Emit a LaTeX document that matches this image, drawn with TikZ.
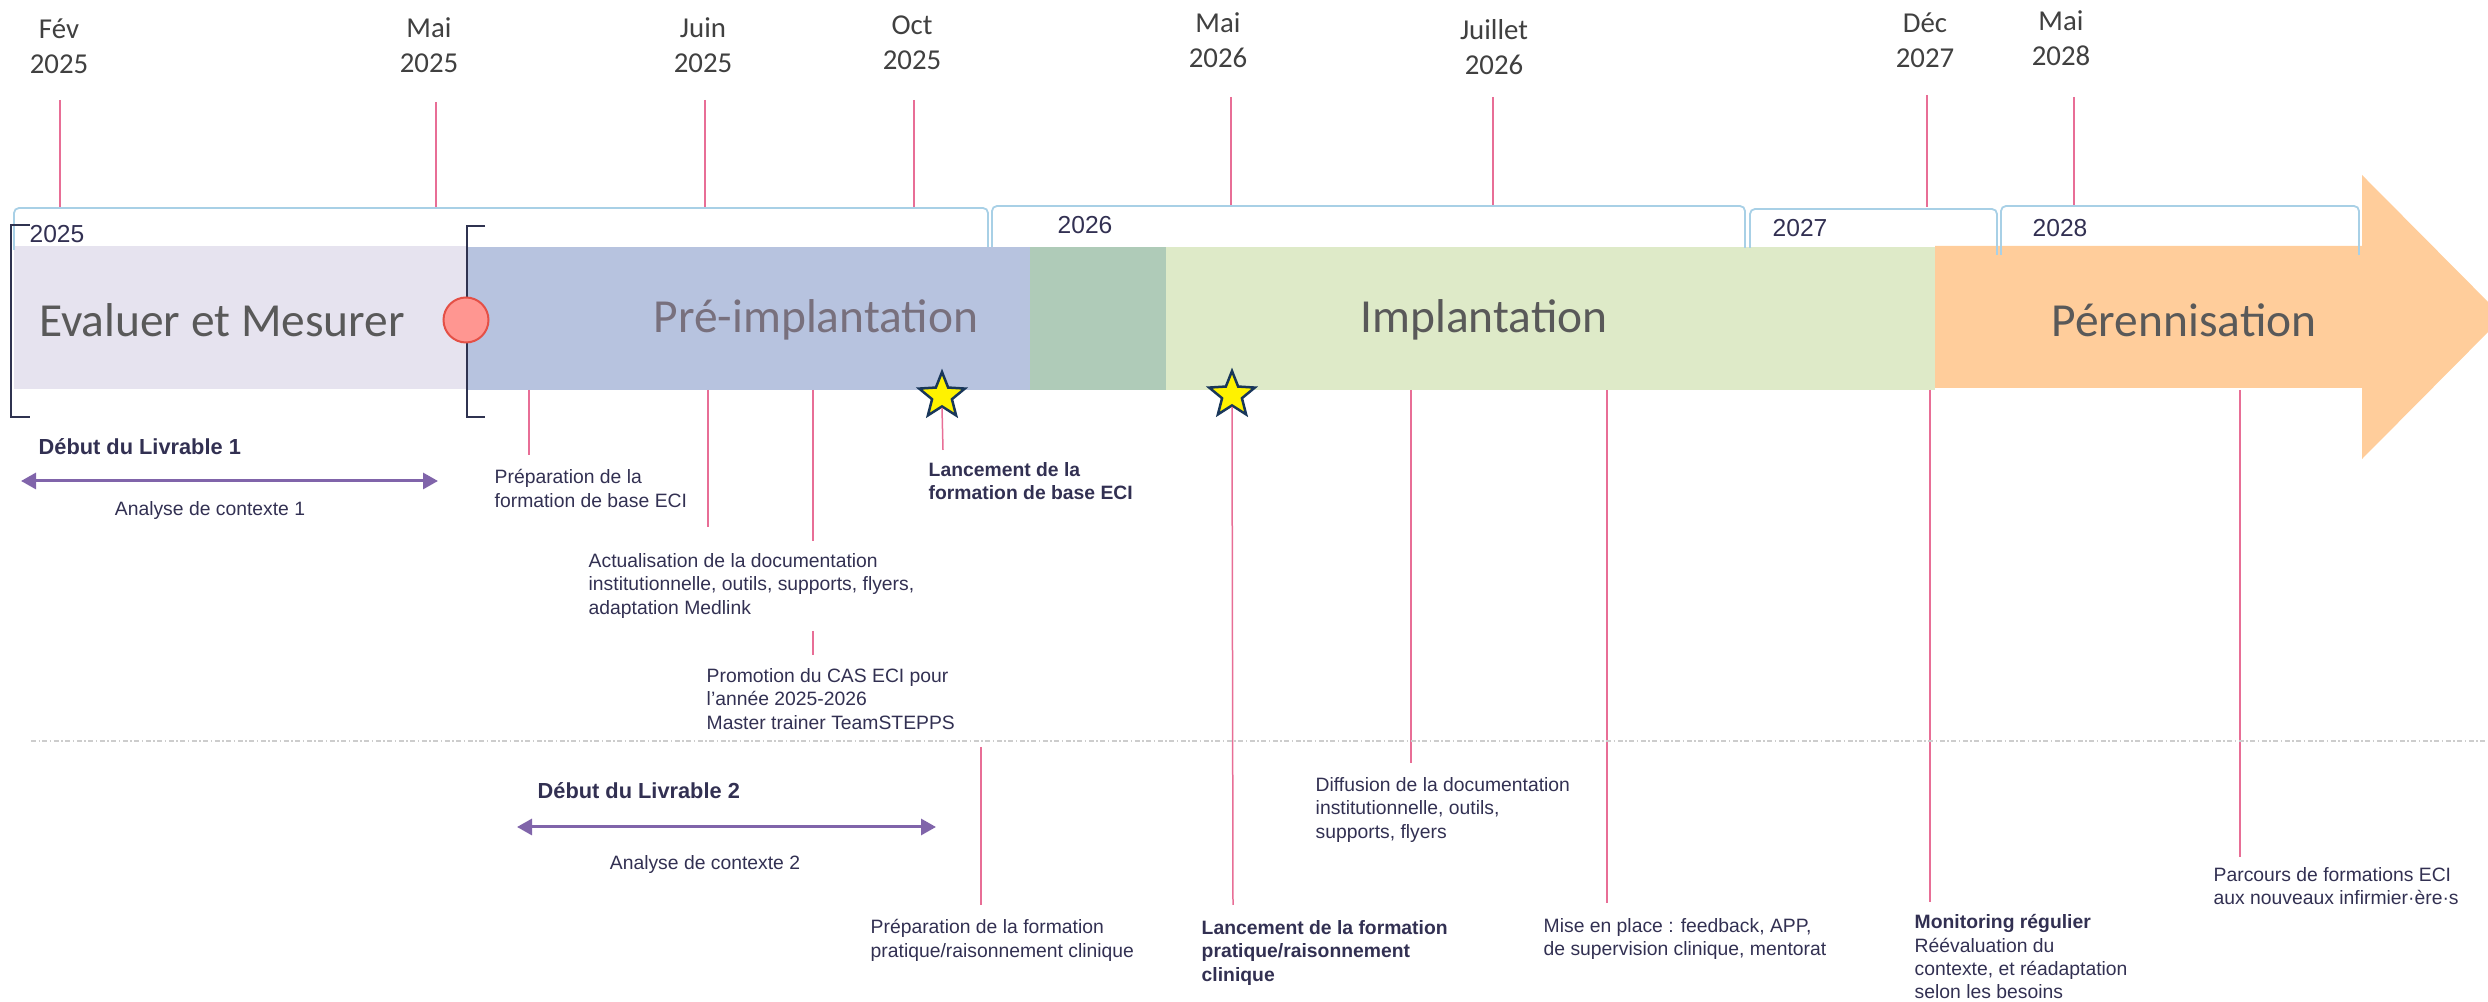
\documentclass[tikz,border=0pt]{standalone}
\usepackage{fontspec}
\setmainfont{Liberation Sans}
\newfontfamily\calibrifont{Carlito}
\usetikzlibrary{shapes.geometric,arrows.meta,positioning}

\definecolor{evalcol}{RGB}{230,227,239}
\definecolor{precol}{RGB}{183,195,223}
\definecolor{trancol}{RGB}{175,203,184}
\definecolor{implcol}{RGB}{222,234,200}
\definecolor{perencol}{RGB}{255,205,155}
\definecolor{pinkline}{RGB}{232,110,150}
\definecolor{yearblue}{RGB}{168,208,230}
\definecolor{navytxt}{RGB}{50,48,82}
\definecolor{phasetxt}{RGB}{89,89,89}
\definecolor{pretxt}{RGB}{120,112,125}
\definecolor{livpurple}{RGB}{128,100,170}
\definecolor{brkcol}{RGB}{47,51,80}
\definecolor{starline}{RGB}{25,55,90}
\definecolor{sepgray}{RGB}{205,205,205}

\tikzset{
  month/.style={font=\calibrifont\fontsize{8.2}{10}\selectfont, text=black!75, align=center, inner sep=0},
  mline/.style={draw=pinkline, line width=0.15mm},
  yrbrk/.style={draw=yearblue, line width=0.18mm, rounded corners=0.5mm},
  yrlab/.style={font=\fontsize{7}{8}\selectfont, text=navytxt, inner sep=0},
  phase/.style={font=\calibrifont\fontsize{13.5}{16}\selectfont, text=phasetxt, inner sep=0},
  blkbrk/.style={draw=brkcol, line width=0.2mm},
  milestar/.style={star, star points=5, star point ratio=2.3, minimum size=4.8mm, inner sep=0,
    fill=yellow, draw=starline, line width=0.25mm},
  note/.style={font=\fontsize{5.5}{6.6}\selectfont, text=navytxt, align=left, anchor=north west, inner sep=0},
  bnote/.style={note, font=\bfseries\fontsize{5.5}{6.6}\selectfont},
  livr/.style={font=\bfseries\fontsize{6.2}{7.5}\selectfont, text=navytxt, anchor=west, inner sep=0},
  span/.style={draw=livpurple, line width=0.3mm,
    {Triangle[length=1.5mm,width=1.6mm]}-{Triangle[length=1.5mm,width=1.6mm]}},
  sepline/.style={draw=sepgray, line width=0.2mm, dash pattern=on 0.5mm off 0.25mm on 0.15mm off 0.25mm},
}

\begin{document}
\begin{tikzpicture}[x=0.1mm,y=-0.1mm]
    \useasboundingbox (0,0) rectangle (2488,1002);
    % Months
    \coordinate (yrtop) at (0,207);
    \node[month] (fev25) at (59,46) {Fév\\2025} ; %
    \node[month] (mai25) at (429,45) {Mai\\2025} ; %
    \node[month] (juin25) at (703,45) {Juin\\2025} ; %
    \node[month] (oct25) at (912,43) {Oct\\2025} ; %
    \node[month] (mai26) at (1218,40) {Mai\\2026} ; %
    \node[month] (juil26) at (1494,47) {Juillet\\2026} ; %
    \node[month] (dec27) at (1925,40) {Déc\\2027} ; %
    \node[month] (mai28) at (2061,38) {Mai\\2028} ; %
    \coordinate (fevT) at (60,100);
    \coordinate (mai25T) at (436,102);
    \coordinate (juin25T) at (705,100);
    \coordinate (oct25T) at (914,100);
    \coordinate (mai26T) at (1231,97);
    \coordinate (juil26T) at (1493,97);
    \coordinate (dec27T) at (1927,95);
    \coordinate (mai28T) at (2074,97);
    \draw[mline] (fevT) -- (fevT |- yrtop) ; %
    \draw[mline] (mai25T) -- (mai25T |- yrtop) ; %
    \draw[mline] (juin25T) -- (juin25T |- yrtop) ; %
    \draw[mline] (oct25T) -- (oct25T |- yrtop) ; %
    \draw[mline] (mai26T) -- (mai26T |- yrtop) ; %
    \draw[mline] (juil26T) -- (juil26T |- yrtop) ; %
    \draw[mline] (dec27T) -- (dec27T |- yrtop) ; %
    \draw[mline] (mai28T) -- (mai28T |- yrtop) ; %

    % Phases
    \fill[evalcol] (14,246) rectangle (467,389);
    \fill[precol] (467,247) rectangle (1030,390);
    \fill[trancol] (1030,247) rectangle (1166,390);
    \fill[implcol] (1166,247) rectangle (1935,390);
    \fill[perencol] (1935,246) -- (2362,246) -- (2362,175) -- (2503,317)
        -- (2362,459) -- (2362,388) -- (1935,388) -- cycle;
    \node[phase] (eval) at (222,320) {Evaluer et Mesurer} ; %
    \node[phase, text=pretxt] (preimpl) at (816,320) {Pré-implantation} ; %
    \node[phase] (impl) at (1484,320) {Implantation} ; %
    \node[phase] (peren) at (2184,320) {Pérennisation} ; %

    % Years
    \draw[yrbrk] (14,250) -- (14,208) -- (988,208) -- (988,247);
    \draw[yrbrk] (992,247) -- (992,206) -- (1745,206) -- (1745,248);
    \draw[yrbrk] (1750,248) -- (1750,209) -- (1997,209) -- (1997,255);
    \draw[yrbrk] (2001,255) -- (2001,206) -- (2359,206) -- (2359,255);
    \node[yrlab] (y25) at (57,234) {2025} ; %
    \node[yrlab] (y26) at (1085,225) {2026} ; %
    \node[yrlab] (y27) at (1800,228) {2027} ; %
    \node[yrlab] (y28) at (2060,228) {2028} ; %

    % Livrable 1
    \draw[blkbrk] (30,225) -- (11,225) -- (11,417) -- (30,417);
    \draw[blkbrk] (485,226) -- (467,226) -- (467,417) -- (485,417);
    \node[circle, minimum size=4.5mm, inner sep=0, fill={rgb,255:red,255;green,150;blue,145},
        draw={rgb,255:red,228;green,80;blue,70}, line width=0.2mm] (jalon) at (466,320) {} ; %

    % Milestones
    \coordinate (bandS) at (0,390);
    \coordinate (prepB) at (529,455);
    \coordinate (actuB) at (708,527);
    \coordinate (promB) at (813,541);
    \coordinate (promC) at (813,631);
    \coordinate (promD) at (813,655);
    \coordinate (lancB) at (943,450);
    \coordinate (pratA) at (981,747);
    \coordinate (pratB) at (981,905);
    \coordinate (lanc2B) at (1233,905);
    \coordinate (diffB) at (1411,763);
    \coordinate (miseB) at (1607,903);
    \coordinate (moniB) at (1930,902);
    \coordinate (parcB) at (2240,857);
    \draw[mline] (prepB |- bandS) -- (prepB) ; %
    \draw[mline] (actuB |- bandS) -- (actuB) ; %
    \draw[mline] (promB |- bandS) -- (promB) ; %
    \draw[mline] (promC) -- (promD) ; %
    \draw[mline] (pratA) -- (pratB) ; %
    \draw[mline] (diffB |- bandS) -- (diffB) ; %
    \draw[mline] (miseB |- bandS) -- (miseB) ; %
    \draw[mline] (moniB |- bandS) -- (moniB) ; %
    \draw[mline] (parcB |- bandS) -- (parcB) ; %
    \node[milestar] (star1) at (942,396) {} ; %
    \node[milestar] (star2) at (1232,395) {} ; %
    \draw[mline] (star1.south) -- (lancB) ; %
    \draw[mline] (star2.south) -- (lanc2B) ; %

    \node[note] (prep) at (494,469) {Préparation de la\\formation de base ECI} ; %
    \node[note] (actu) at (588,553) {Actualisation de la documentation\\institutionnelle, outils, supports, flyers,\\adaptation Medlink} ; %
    \node[bnote] (lanc) at (928,462) {Lancement de la\\formation de base ECI} ; %
    \node[note] (prom) at (706,668) {Promotion du CAS ECI pour\\l’année 2025-2026\\Master trainer TeamSTEPPS} ; %
    \node[note] (prat) at (870,919) {Préparation de la formation\\pratique/raisonnement clinique} ; %
    \node[bnote] (lanc2) at (1201,920) {Lancement de la formation\\pratique/raisonnement\\clinique} ; %
    \node[note] (diff) at (1315,777) {Diffusion de la documentation\\institutionnelle, outils,\\supports, flyers} ; %
    \node[note] (mise) at (1543,918) {Mise en place : feedback, APP,\\de supervision clinique, mentorat} ; %
    \node[note] (moni) at (1914,914) {\textbf{Monitoring régulier}\\Réévaluation du\\contexte, et réadaptation\\selon les besoins} ; %
    \node[note] (parc) at (2213,867) {Parcours de formations ECI\\aux nouveaux infirmier·ère·s} ; %

    % Livrables
    \node[livr] (liv1) at (38,447) {Début du Livrable 1} ; %
    \coordinate (ctx1L) at (21,481);
    \coordinate (ctx1R) at (438,481);
    \draw[span] (ctx1L) -- (ctx1R) ; %
    \node[note, anchor=center] (ctx1) at (210,511) {Analyse de contexte 1} ; %
    \coordinate (sepL) at (31,741);
    \coordinate (sepR) at (2488,741);
    \draw[sepline] (sepL) -- (sepR) ; %
    \node[livr] (liv2) at (537,791) {Début du Livrable 2} ; %
    \coordinate (ctx2L) at (517,827);
    \coordinate (ctx2R) at (936,827);
    \draw[span] (ctx2L) -- (ctx2R) ; %
    \node[note, anchor=center] (ctx2) at (705,865) {Analyse de contexte 2} ; %
\end{tikzpicture}
\end{document}
